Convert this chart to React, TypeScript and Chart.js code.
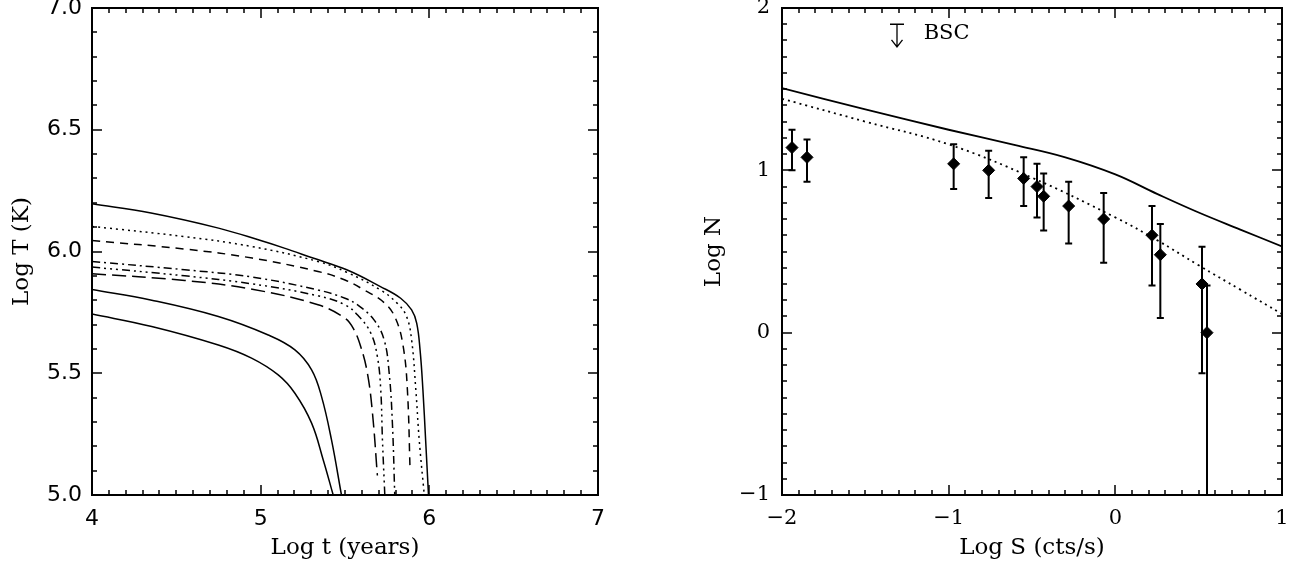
import React, { useEffect, useRef } from 'react';
import { Chart, registerables } from 'chart.js';

Chart.register(...registerables);

// ---------------- Left panel: cooling curves ----------------
const leftXMin = 4;
const leftXMax = 7;
const leftYMin = 5;
const leftYMax = 7;
const leftXTicks = [4, 5, 6, 7];
const leftXTickLabels = ['4', '5', '6', '7'];
const leftYTicks = [5, 5.5, 6, 6.5, 7];
const leftYTickLabels = ['5.0', '5.5', '6.0', '6.5', '7.0'];
const leftXTitle = 'Log t (years)';
const leftYTitle = 'Log T (K)';

// solid (top)
const curveAx = [4.0, 4.35, 4.75, 5.0, 5.14, 5.31, 5.51, 5.71, 5.83, 5.895, 5.925, 5.945, 5.962, 5.978, 5.995];
const curveAy = [6.196, 6.158, 6.096, 6.045, 6.014, 5.973, 5.925, 5.856, 5.808, 5.76, 5.706, 5.596, 5.431, 5.226, 5.0];
// dotted
const curveBx = [4.0, 4.55, 4.95, 5.34, 5.51, 5.71, 5.81, 5.865, 5.895, 5.92, 5.94, 5.97];
const curveBy = [6.103, 6.061, 6.02, 5.959, 5.915, 5.842, 5.787, 5.733, 5.637, 5.431, 5.226, 5.0];
// dashed
const curveCx = [4.0, 4.55, 4.95, 5.34, 5.5, 5.613, 5.732, 5.8, 5.845, 5.87, 5.886];
const curveCy = [6.045, 6.01, 5.973, 5.918, 5.883, 5.842, 5.79, 5.725, 5.61, 5.431, 5.1];
// dash-dot
const curveDx = [4.0, 4.55, 4.95, 5.34, 5.5, 5.58, 5.672, 5.732, 5.762, 5.781, 5.795];
const curveDy = [5.959, 5.925, 5.895, 5.842, 5.808, 5.778, 5.719, 5.637, 5.5, 5.295, 5.0];
// dash-dot-dot-dot
const curveEx = [4.0, 4.55, 4.95, 5.34, 5.5, 5.58, 5.653, 5.692, 5.712, 5.722, 5.736];
const curveEy = [5.936, 5.9, 5.867, 5.818, 5.781, 5.735, 5.665, 5.568, 5.431, 5.226, 5.0];
// long dash
const curveFx = [4.0, 4.55, 4.95, 5.34, 5.5, 5.55, 5.593, 5.633, 5.663, 5.692];
const curveFy = [5.909, 5.881, 5.845, 5.781, 5.726, 5.683, 5.61, 5.5, 5.336, 5.08];
// solid (second)
const curveGx = [4.0, 4.354, 4.749, 5.045, 5.203, 5.302, 5.361, 5.42, 5.479];
const curveGy = [5.844, 5.8, 5.733, 5.657, 5.596, 5.514, 5.404, 5.226, 5.0];
// solid (lowest)
const curveHx = [4.0, 4.354, 4.749, 4.946, 5.104, 5.203, 5.302, 5.371, 5.43];
const curveHy = [5.743, 5.692, 5.616, 5.562, 5.493, 5.418, 5.295, 5.144, 5.0];

// ---------------- Right panel: Log N - Log S ----------------
const rightXMin = -2;
const rightXMax = 1;
const rightYMin = -1;
const rightYMax = 2;
const rightXTicks = [-2, -1, 0, 1];
const rightXTickLabels = ['\u22122', '\u22121', '0', '1'];
const rightYTicks = [-1, 0, 1, 2];
const rightYTickLabels = ['\u22121', '0', '1', '2'];
const rightXTitle = 'Log S (cts/s)';
const rightYTitle = 'Log N';

const modelSolidS = [-2, -1.5, -1, -0.6, -0.3, 0, 0.25, 0.5, 0.75, 1];
const modelSolidN = [1.507, 1.375, 1.25, 1.155, 1.08, 0.975, 0.855, 0.74, 0.635, 0.531];
const modelDotS = [-2, -1.5, -1, -0.5, 0, 0.25, 0.5, 0.75, 1];
const modelDotN = [1.441, 1.3, 1.16, 0.955, 0.71, 0.57, 0.415, 0.265, 0.115];

const obsLogS = [-1.94, -1.85, -0.97, -0.76, -0.55, -0.47, -0.43, -0.28, -0.07, 0.22, 0.27, 0.52, 0.55];
const obsLogN = [1.14, 1.08, 1.04, 1.0, 0.95, 0.9, 0.84, 0.78, 0.7, 0.6, 0.48, 0.3, 0.0];
const obsErrHigh = [1.25, 1.19, 1.16, 1.12, 1.08, 1.04, 0.98, 0.93, 0.86, 0.78, 0.67, 0.53, 0.29];
const obsErrLow = [1.0, 0.93, 0.885, 0.83, 0.78, 0.71, 0.63, 0.55, 0.43, 0.29, 0.09, -0.25, -1.1];

const bscS = -1.31;
const bscTopN = 1.9;
const bscArrowN = 1.76;
const bscLabel = 'BSC';
const bscLabelS = -1.15;
const bscLabelN = 1.84;

// ---------------- helpers ----------------
const pts = (xs: number[], ys: number[]) => xs.map((v, i) => ({ x: v, y: ys[i] }));

const SERIF = '"DejaVu Serif", serif';
const SANS = '"DejaVu Sans", sans-serif';

function makeFramePlugin(xMinor: number, yMinor: number) {
  return {
    id: 'idlFrame',
    afterDatasetsDraw(chart: any) {
      const { ctx, chartArea: a, scales } = chart;
      const xs = scales.x;
      const ys = scales.y;
      const majX = xs.ticks.map((t: any) => t.value);
      const majY = ys.ticks.map((t: any) => t.value);
      const isMaj = (v: number, arr: number[]) => arr.some((m) => Math.abs(m - v) < 1e-6);
      ctx.save();
      ctx.strokeStyle = '#000';
      ctx.lineWidth = 1.5;
      ctx.beginPath();
      const nx = Math.round((xs.max - xs.min) / xMinor);
      for (let i = 0; i <= nx; i++) {
        const v = xs.min + i * xMinor;
        const p = Math.round(xs.getPixelForValue(v));
        const len = isMaj(v, majX) ? 10 : 5;
        ctx.moveTo(p, a.bottom);
        ctx.lineTo(p, a.bottom - len);
        ctx.moveTo(p, a.top);
        ctx.lineTo(p, a.top + len);
      }
      const ny = Math.round((ys.max - ys.min) / yMinor);
      for (let i = 0; i <= ny; i++) {
        const v = ys.min + i * yMinor;
        const p = Math.round(ys.getPixelForValue(v));
        const len = isMaj(v, majY) ? 10 : 5;
        ctx.moveTo(a.left, p);
        ctx.lineTo(a.left + len, p);
        ctx.moveTo(a.right, p);
        ctx.lineTo(a.right - len, p);
      }
      ctx.stroke();
      ctx.lineWidth = 2;
      ctx.strokeRect(a.left, a.top, a.right - a.left, a.bottom - a.top);
      ctx.restore();
    },
  };
}

const errorBarPlugin = {
  id: 'errorBars',
  beforeDatasetsDraw(chart: any) {
    const { ctx, chartArea: a, scales } = chart;
    const xs = scales.x;
    const ys = scales.y;
    ctx.save();
    ctx.beginPath();
    ctx.rect(a.left, a.top, a.right - a.left, a.bottom - a.top);
    ctx.clip();
    ctx.strokeStyle = '#000';
    ctx.lineWidth = 2;
    ctx.beginPath();
    obsLogS.forEach((s, i) => {
      const px = xs.getPixelForValue(s);
      const hi = ys.getPixelForValue(obsErrHigh[i]);
      const lo = ys.getPixelForValue(obsErrLow[i]);
      ctx.moveTo(px, hi);
      ctx.lineTo(px, lo);
      ctx.moveTo(px - 3.5, hi);
      ctx.lineTo(px + 3.5, hi);
      ctx.moveTo(px - 3.5, lo);
      ctx.lineTo(px + 3.5, lo);
    });
    ctx.stroke();
    ctx.restore();
  },
  afterDraw(chart: any) {
    const { ctx, scales } = chart;
    const xs = scales.x;
    const ys = scales.y;
    const px = xs.getPixelForValue(bscS);
    const top = ys.getPixelForValue(bscTopN);
    const tip = ys.getPixelForValue(bscArrowN);
    ctx.save();
    ctx.strokeStyle = '#000';
    ctx.lineWidth = 1.3;
    ctx.beginPath();
    ctx.moveTo(px - 7, top);
    ctx.lineTo(px + 7, top);
    ctx.moveTo(px, top);
    ctx.lineTo(px, tip);
    ctx.moveTo(px - 5.5, tip - 7);
    ctx.lineTo(px, tip);
    ctx.lineTo(px + 5.5, tip - 7);
    ctx.stroke();
    ctx.fillStyle = '#000';
    ctx.font = `21px ${SERIF}`;
    ctx.textAlign = 'left';
    ctx.textBaseline = 'middle';
    ctx.fillText(bscLabel, xs.getPixelForValue(bscLabelS), ys.getPixelForValue(bscLabelN));
    ctx.restore();
  },
};

function axisX(min: number, max: number, ticks: number[], labels: string[], font: string, size: number, title: string) {
  return {
    type: 'linear',
    min,
    max,
    afterBuildTicks: (s: any) => {
      s.ticks = ticks.map((v) => ({ value: v }));
    },
    afterFit: (s: any) => {
      s.height = 76;
    },
    ticks: {
      callback: (_v: any, i: number) => labels[i],
      font: { family: font, size },
      color: '#000',
      padding: 11,
      maxRotation: 0,
      autoSkip: false,
    },
    grid: { display: false, drawTicks: false },
    border: { display: false },
    title: {
      display: true,
      text: title,
      color: '#000',
      font: { family: SERIF, size: 23 },
      padding: { top: 0, bottom: 9 },
    },
  };
}

function axisY(min: number, max: number, ticks: number[], labels: string[], font: string, size: number, title: string, width: number, labelPad: number, titlePad: number) {
  return {
    type: 'linear',
    min,
    max,
    afterBuildTicks: (s: any) => {
      s.ticks = ticks.map((v) => ({ value: v }));
    },
    afterFit: (s: any) => {
      s.width = width;
    },
    ticks: {
      callback: (_v: any, i: number) => labels[i],
      font: { family: font, size },
      color: '#000',
      padding: labelPad,
      autoSkip: false,
    },
    grid: { display: false, drawTicks: false },
    border: { display: false },
    title: {
      display: true,
      text: title,
      color: '#000',
      font: { family: SERIF, size: 23 },
      padding: { top: titlePad, bottom: 0 },
    },
  };
}

const lineDs = (xs: number[], ys: number[], dash: number[], width = 1.5) => ({
  data: pts(xs, ys),
  borderColor: '#000',
  borderWidth: width,
  borderDash: dash,
  pointRadius: 0,
  fill: false,
  tension: 0.4,
  showLine: true,
});

export default function App() {
  const leftRef = useRef<HTMLCanvasElement>(null);
  const rightRef = useRef<HTMLCanvasElement>(null);

  useEffect(() => {
    const left = new Chart(leftRef.current as HTMLCanvasElement, {
      type: 'line',
      data: {
        datasets: [
          lineDs(curveAx, curveAy, []),
          lineDs(curveBx, curveBy, [2, 4]),
          lineDs(curveCx, curveCy, [8, 6]),
          lineDs(curveDx, curveDy, [8, 4, 2, 4]),
          lineDs(curveEx, curveEy, [8, 4, 2, 4, 2, 4, 2, 4]),
          lineDs(curveFx, curveFy, [14, 6]),
          lineDs(curveGx, curveGy, []),
          lineDs(curveHx, curveHy, []),
        ] as any,
      },
      options: {
        responsive: false,
        animation: false,
        events: [],
        layout: { padding: { left: 0, right: 42, top: 48, bottom: 0 } },
        plugins: { legend: { display: false }, tooltip: { enabled: false } },
        scales: {
          x: axisX(leftXMin, leftXMax, leftXTicks, leftXTickLabels, SANS, 22, leftXTitle),
          y: axisY(leftYMin, leftYMax, leftYTicks, leftYTickLabels, SANS, 22, leftYTitle, 92, 10, 8),
        } as any,
      },
      plugins: [makeFramePlugin(0.1, 0.1)],
    });

    const right = new Chart(rightRef.current as HTMLCanvasElement, {
      type: 'line',
      data: {
        datasets: [
          lineDs(modelSolidS, modelSolidN, [], 1.8),
          lineDs(modelDotS, modelDotN, [2, 4], 1.8),
          {
            data: pts(obsLogS, obsLogN),
            showLine: false,
            pointStyle: 'rectRot',
            pointRadius: 6,
            pointBorderWidth: 1,
            pointBackgroundColor: '#000',
            pointBorderColor: '#000',
          },
        ] as any,
      },
      options: {
        responsive: false,
        animation: false,
        events: [],
        layout: { padding: { left: 0, right: 18, top: 48, bottom: 0 } },
        plugins: { legend: { display: false }, tooltip: { enabled: false } },
        scales: {
          x: axisX(rightXMin, rightXMax, rightXTicks, rightXTickLabels, SERIF, 21, rightXTitle),
          y: axisY(rightYMin, rightYMax, rightYTicks, rightYTickLabels, SERIF, 21, rightYTitle, 102, 12, 20),
        } as any,
      },
      plugins: [makeFramePlugin(0.1, 0.1), errorBarPlugin],
    });

    return () => {
      left.destroy();
      right.destroy();
    };
  }, []);

  return (
    <div style={{ position: 'absolute', left: 0, top: 0, width: 1300, height: 571, overflow: 'hidden', background: '#fff' }}>
      <canvas
        ref={leftRef}
        width={640}
        height={611}
        style={{ position: 'absolute', left: 0, top: -40, width: 640, height: 611 }}
      />
      <canvas
        ref={rightRef}
        width={620}
        height={611}
        style={{ position: 'absolute', left: 680, top: -40, width: 620, height: 611 }}
      />
    </div>
  );
}
